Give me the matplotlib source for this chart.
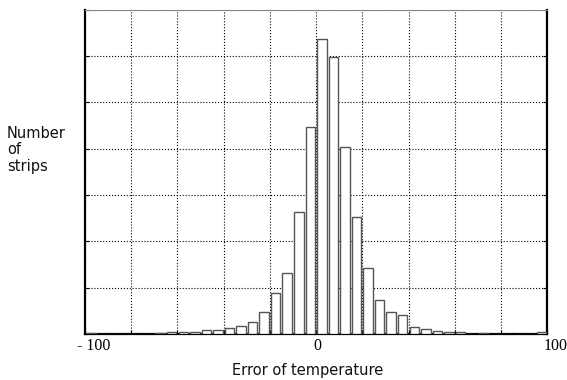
import numpy as np
import matplotlib.pyplot as plt
import matplotlib.transforms as mtransforms

# histogram of temperature error, bins of 5 from -100 to 100
bin_centers = np.arange(-97.5, 100, 5)
counts = [2, 0, 0, 1, 1, 1, 2, 5, 5, 5,
          9, 9, 13, 17, 25, 48, 89, 132, 263, 447,
          637, 598, 403, 252, 143, 74, 48, 40, 15, 11,
          6, 4, 4, 0, 2, 0, 0, 0, 0, 4]
xtick_pos = [-100, 0, 100]
xtick_labels = ['- 100', '0', '100']
label_shift = [9, 1, 8]   # px, labels sit a bit right of their ticks

fig = plt.figure(figsize=(5.67, 3.80), dpi=100)
ax = fig.add_axes([0.150, 0.121, 0.815, 0.853])

ax.bar(bin_centers, counts, width=4.1, facecolor='white',
       edgecolor='#555555', linewidth=1.0, zorder=3)

ax.set_xlim(-100, 100)
ax.set_ylim(0, 700)
ax.set_xticks(np.arange(-100, 101, 20))
ax.set_xticklabels([])
ax.set_yticks(np.arange(0, 701, 100))
ax.set_yticklabels([])
ax.tick_params(direction='in', length=3, width=0.8, top=False, right=True,
               colors='black')
ax.grid(True, linestyle=':', color='black', linewidth=0.8, zorder=0)

# the three x labels, drawn by hand so they can sit off-centre like the original
base = ax.get_xaxis_transform()
for x, lab, sh in zip(xtick_pos, xtick_labels, label_shift):
    tr = base + mtransforms.ScaledTranslation(sh / 100, -12 / 100, fig.dpi_scale_trans)
    ax.text(x, 0, lab, transform=tr, ha='center', va='center',
            family='Liberation Serif', fontsize=11.5, clip_on=False)

for s in ['left', 'bottom', 'right']:
    ax.spines[s].set_linewidth(1.6)
ax.spines['top'].set_linewidth(0.8)
ax.spines['top'].set_color('#888888')

fig.text(308 / 567, 1 - 371 / 380, 'Error of temperature', family='DejaVu Sans',
         fontsize=10.5, ha='center', va='center', color='#111111')
fig.text(7 / 567, 1 - 150 / 380, 'Number\nof\nstrips', family='DejaVu Sans',
         fontsize=10.5, ha='left', va='center', linespacing=1.1, color='#111111')

fig.savefig('out.png', dpi=100)
